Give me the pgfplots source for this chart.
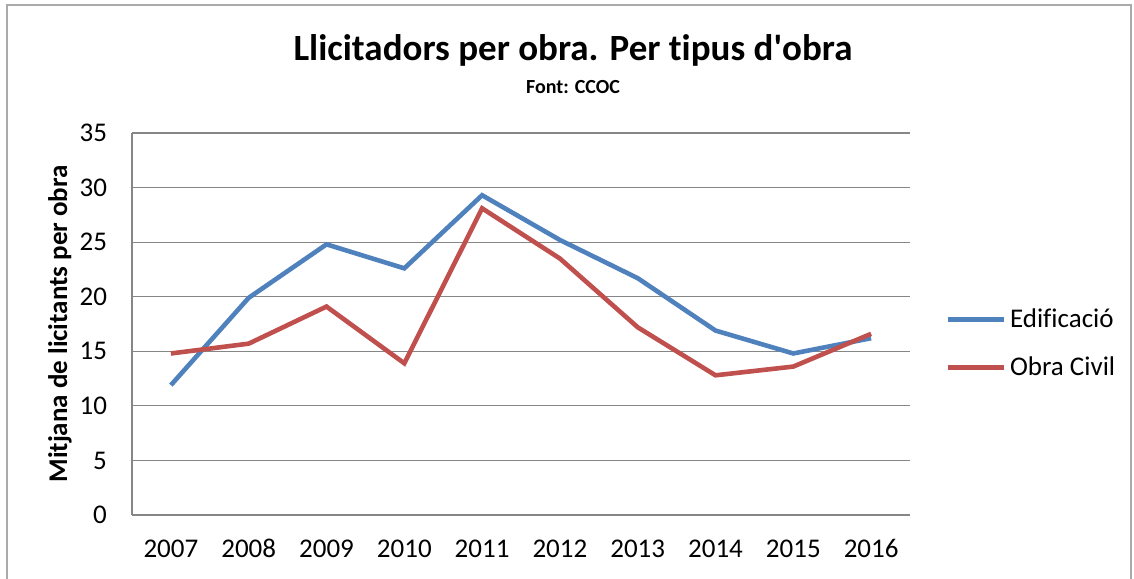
\documentclass[border=0pt]{standalone}
\usepackage{pgfplots}
\pgfplotsset{compat=1.18}
\usepackage{fontspec}
\setmainfont{Carlito}[Ligatures={NoCommon}]
\definecolor{cblue}{HTML}{4F81BD}
\definecolor{cred}{HTML}{C0504D}
\definecolor{cgrid}{HTML}{868686}
\begin{document}
\begin{tikzpicture}
\useasboundingbox (0,0) rectangle (567pt,-289pt);
\draw[color=cgrid!70, line width=1pt] (3.5pt,-2.5pt) rectangle (565.5pt,-300pt);
\node[font=\fontsize{18.5}{20}\selectfont\bfseries] at (286.5pt,-25pt) {Llicitadors per obra. Per tipus d\textquotesingle obra};
\node[font=\fontsize{10}{12}\selectfont\bfseries] at (286.5pt,-43.5pt) {Font: CCOC};
\begin{axis}[
  at={(66pt,-257.5pt)}, anchor=south west,
  scale only axis, width=389pt, height=191pt,
  xmin=-0.5, xmax=9.5, ymin=0, ymax=35,
  xtick={0,...,9},
  xticklabels={2007,2008,2009,2010,2011,2012,2013,2014,2015,2016},
  ytick={0,5,...,35},
  ymajorgrids, grid style={cgrid, line width=0.6pt},
  axis x line*=bottom, axis y line*=left,
  axis line style={cgrid, line width=0.8pt},
  major tick length=0pt,
  tick label style={font=\fontsize{13.5}{15}\selectfont},
  /pgf/number format/assume math mode=true,
  yticklabel style={anchor=east, xshift=-9pt},
  xticklabel style={anchor=north, text height=9.5pt, text depth=0pt, yshift=-8pt},
  ylabel={\bfseries Mitjana de licitants per obra},
  ylabel style={font=\fontsize{13.5}{15}\selectfont, at={(axis description cs:-0.0925,0.5)}, anchor=center},
  legend style={draw=none, at={(1.045,0.449)}, anchor=west, font=\fontsize{13.5}{15}\selectfont, row sep=9pt, inner sep=0pt},
  legend cell align=left,
  legend image code/.code={\draw[#1] (0pt,0pt) -- (28pt,0pt);},
]
\addplot[cblue, line width=2.3pt] coordinates {(0,11.9) (1,19.9) (2,24.8) (3,22.6) (4,29.3) (5,25.2) (6,21.7) (7,16.9) (8,14.8) (9,16.2)};
\addlegendentry{Edificació}
\addplot[cred, line width=2.3pt] coordinates {(0,14.8) (1,15.7) (2,19.1) (3,13.9) (4,28.1) (5,23.5) (6,17.2) (7,12.8) (8,13.6) (9,16.6)};
\addlegendentry{Obra Civil}
\end{axis}
\end{tikzpicture}
\end{document}
